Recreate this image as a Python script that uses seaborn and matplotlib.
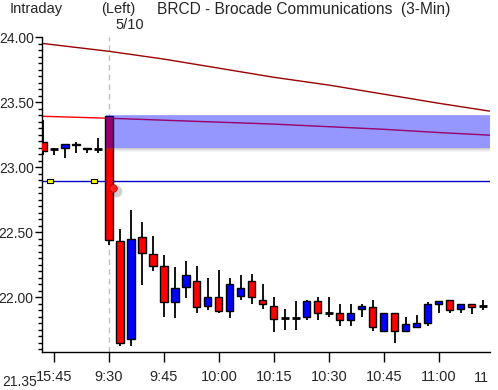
import numpy as np
import matplotlib
matplotlib.use('Agg')
import seaborn as sns
from matplotlib import pyplot as plt
from matplotlib.ticker import MultipleLocator, FixedLocator

# 3-minute candles, first 6 are the previous session close
opens  = [23.19, 23.14, 23.15, 23.18, 23.15, 23.14,
          23.39, 22.43, 21.68, 22.46, 22.33, 22.24, 21.96, 22.08, 22.12, 21.93,
          22.00, 21.89, 22.01, 22.12, 21.98, 21.93, 21.84, 21.84, 21.85, 21.97,
          21.88, 21.88, 21.82, 21.91, 21.92, 21.74, 21.88, 21.74, 21.77, 21.80,
          21.95, 21.98, 21.91, 21.95, 21.93]
highs  = [23.36, 23.15, 23.18, 23.19, 23.15, 23.22,
          23.39, 22.52, 22.67, 22.58, 22.47, 22.32, 22.23, 22.28, 22.24, 22.15,
          22.21, 22.15, 22.17, 22.18, 22.10, 22.00, 21.91, 21.97, 21.98, 22.00,
          22.00, 21.95, 21.95, 21.95, 21.98, 21.88, 21.88, 21.85, 21.86, 21.96,
          21.97, 21.98, 21.95, 21.95, 21.98]
lows   = [23.09, 23.09, 23.07, 23.11, 23.11, 23.11,
          22.40, 21.62, 21.62, 22.09, 22.20, 21.85, 21.84, 21.99, 21.88, 21.90,
          21.88, 21.84, 21.98, 21.95, 21.91, 21.73, 21.75, 21.75, 21.82, 21.82,
          21.85, 21.78, 21.78, 21.85, 21.74, 21.74, 21.65, 21.74, 21.77, 21.78,
          21.88, 21.88, 21.88, 21.87, 21.90]
closes = [23.12, 23.14, 23.18, 23.17, 23.14, 23.14,
          22.44, 21.65, 22.45, 22.34, 22.24, 21.96, 22.07, 22.17, 21.92, 22.00,
          21.89, 22.10, 22.07, 22.00, 21.95, 21.83, 21.84, 21.84, 21.97, 21.88,
          21.88, 21.82, 21.88, 21.93, 21.77, 21.88, 21.74, 21.79, 21.80, 21.95,
          21.97, 21.90, 21.95, 21.92, 21.93]
first_bar = -6   # bar index of first candle; 9:30 open is bar 0

# overlay lines, read at bar positions
line_x      = [-6, 0, 5, 10, 15, 20, 25, 30, 34.6]
long_ma     = [23.95, 23.89, 23.83, 23.76, 23.69, 23.63, 23.56, 23.49, 23.43]
short_ma    = [23.39, 23.375, 23.36, 23.345, 23.33, 23.31, 23.29, 23.265, 23.245]
prev_close  = 22.89
band_lo, band_hi = 23.15, 23.40
marks_x = [-5.4, -1.4]

tick_pos    = [-5, 0, 5, 10, 15, 20, 25, 30]
tick_labels = ['15:45', '9:30', '9:45', '10:00', '10:15', '10:30', '10:45', '11:00']
y_ticks     = [22.00, 22.50, 23.00, 23.50, 24.00]

sns.set_style('ticks')
plt.rcParams['font.family'] = ['Liberation Sans', 'DejaVu Sans']
FS = 10

W, H = 498, 390
fig = plt.figure(figsize=(W / 100, H / 100), dpi=100)
ax = fig.add_axes([42 / W, 38 / H, 448 / W, 315 / H])

ax.axvline(0, color='#c0c0c0', ls=(0, (4, 3)), lw=1, zorder=0)

sns.lineplot(x=line_x, y=long_ma, color='#990000', lw=1, ax=ax, legend=False, zorder=2)
sns.lineplot(x=line_x, y=short_ma, color='#ff0000', lw=1, ax=ax, legend=False, zorder=2)
ax.axhline(prev_close, color='#0000cc', lw=1, zorder=2)

# candles
for k, (o, h, l, c) in enumerate(zip(opens, highs, lows, closes)):
    x = first_bar + k
    ax.vlines(x, l, h, color='black', lw=1.3, zorder=3)
    if o == c:
        ax.hlines(c, x - 0.33, x + 0.33, color='black', lw=2, zorder=4)
    else:
        col = '#ff0000' if c < o else '#0000ff'
        ax.bar(x, abs(c - o), bottom=min(o, c), width=0.64, color=col,
               edgecolor='black', lw=1, zorder=4)

# target band with soft shadow
x_end = 34.64
ax.fill_between([-0.3, x_end], band_lo, band_hi, color='#0000ff', alpha=0.41, lw=0, zorder=5)
ax.fill_between([-0.3, x_end], band_hi - 0.01, band_hi, color='white', alpha=0.15, lw=0, zorder=5)
for j, a in enumerate([0.30, 0.2, 0.12, 0.06]):
    ax.fill_between([-0.3, x_end], band_lo - 0.008 * (j + 1), band_lo - 0.008 * j,
                    color='#555555', alpha=a, lw=0, zorder=5)

# yellow markers on the previous close line
rect = [(-1.7, -1), (1.7, -1), (1.7, 1), (-1.7, 1), (-1.7, -1)]
ax.scatter(marks_x, [prev_close] * len(marks_x), marker=rect, s=22,
           facecolor='#ffff00', edgecolor='black', lw=0.8, zorder=6)

# push pin
ax.scatter([0.6], [22.815], s=70, color='#444444', alpha=0.25, lw=0, zorder=6)
ax.scatter([0.35], [22.835], s=30, color='#ff2020', edgecolor='#aa0000', lw=0.5, zorder=7)

ax.set_xlim(-6.09, x_end)
ax.set_ylim(21.577, 24.0)
ax.xaxis.set_major_locator(FixedLocator(tick_pos))
ax.set_xticklabels(tick_labels)
ax.yaxis.set_major_locator(FixedLocator(y_ticks))
ax.yaxis.set_minor_locator(MultipleLocator(0.05))
ax.set_yticklabels(['%.2f' % v for v in y_ticks])
ax.tick_params(axis='y', which='major', length=5, width=1, pad=1, labelsize=FS, color='black')
ax.tick_params(axis='y', which='minor', length=3, width=1, color='black')
ax.tick_params(axis='x', which='major', length=7, width=1, pad=6, labelsize=FS + 0.5, color='black')
ax.tick_params(axis='x', which='minor', bottom=False)
sns.despine(ax=ax)
for s in ['left', 'bottom']:
    ax.spines[s].set_color('black')
    ax.spines[s].set_linewidth(1)

# leftover labels cut by the frame
ax.text(-0.012, 21.35, '21.35', transform=ax.get_yaxis_transform(), ha='right',
        va='center', fontsize=FS, clip_on=False)
fig.text(474 / W, 1 - 371 / H, '11', ha='left', va='top', fontsize=FS + 0.5)

# header
fig.text(10 / W, 1 - 2 / H, 'Intraday', ha='left', va='top', fontsize=10.5)
fig.text(101 / W, 1 - 2 / H, '(Left)', ha='left', va='top', fontsize=10.5)
fig.text(157 / W, 1 - 2 / H, 'BRCD - Brocade Communications  (3-Min)', ha='left', va='top', fontsize=11.2)
fig.text(115 / W, 1 - 18 / H, '5/10', ha='left', va='top', fontsize=10.5)

fig.savefig('out.png', dpi=100, facecolor='white')
